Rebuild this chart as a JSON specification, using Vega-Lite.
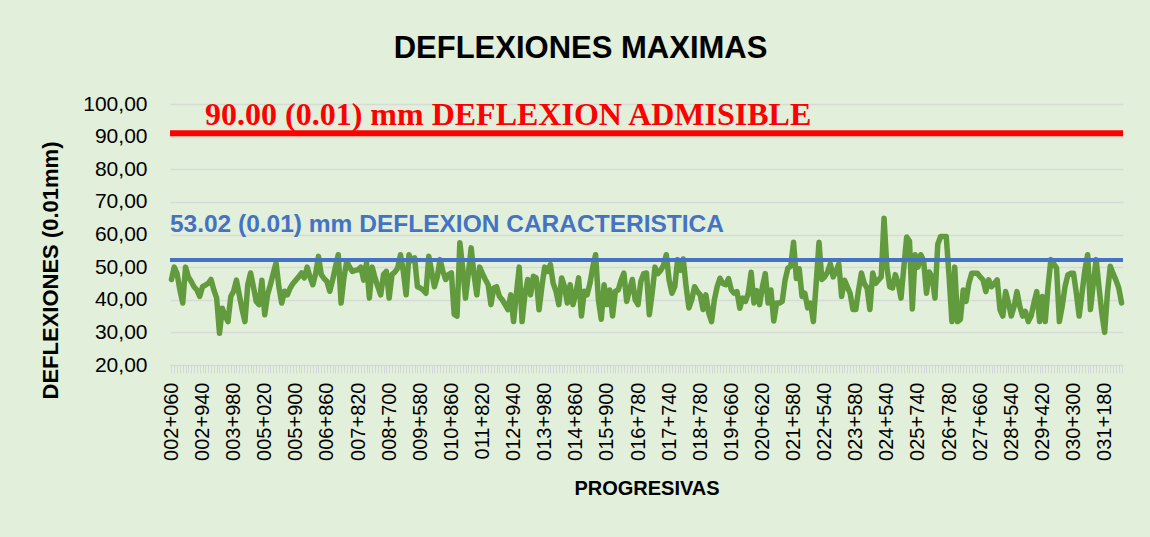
{
 "$schema": "https://vega.github.io/schema/vega-lite/v6.json",
 "width": 953,
 "height": 261,
 "autosize": {"type": "none"},
 "padding": {"left": 170, "top": 104, "right": 27, "bottom": 172},
 "background": "#e2efda",
 "config": {"view": {"stroke": null}, "font": "Liberation Sans", "axisY": {"tickCount": 9, "labelOverlap": false, "values": [20, 30, 40, 50, 60, 70, 80, 90, 100]}},
 "title": {"text": "DEFLEXIONES MAXIMAS", "font": "Liberation Sans", "fontSize": 31, "fontWeight": "bold", "color": "#000000", "anchor": "middle", "frame": "group", "dx": -66, "offset": 4, "baseline": "alphabetic"},
 "datasets": {
  "deflexiones": [
   {"progresiva":"002+060","deflexion":46.2},{"progresiva":"002+140","deflexion":50},{"progresiva":"002+220","deflexion":48},{"progresiva":"002+300","deflexion":43},{"progresiva":"002+380","deflexion":39},{"progresiva":"002+460","deflexion":50},{"progresiva":"002+540","deflexion":47},{"progresiva":"002+620","deflexion":45.6},{"progresiva":"002+700","deflexion":44},{"progresiva":"002+780","deflexion":43},{"progresiva":"002+860","deflexion":41},
   {"progresiva":"002+940","deflexion":44},{"progresiva":"003+020","deflexion":44.5},{"progresiva":"003+100","deflexion":45},{"progresiva":"003+180","deflexion":46.2},{"progresiva":"003+260","deflexion":43},{"progresiva":"003+340","deflexion":40.5},{"progresiva":"003+420","deflexion":29.7},{"progresiva":"003+500","deflexion":37.4},{"progresiva":"003+580","deflexion":35},{"progresiva":"003+660","deflexion":33.3},{"progresiva":"003+740","deflexion":41},
   {"progresiva":"003+980","deflexion":42.6},{"progresiva":"004+060","deflexion":46},{"progresiva":"004+140","deflexion":41.5},{"progresiva":"004+220","deflexion":37},{"progresiva":"004+300","deflexion":33.3},{"progresiva":"004+380","deflexion":44.6},{"progresiva":"004+460","deflexion":48.2},{"progresiva":"004+540","deflexion":44},{"progresiva":"004+620","deflexion":39.5},{"progresiva":"004+700","deflexion":38.5},{"progresiva":"004+780","deflexion":46},
   {"progresiva":"005+020","deflexion":35.4},{"progresiva":"005+100","deflexion":41.5},{"progresiva":"005+180","deflexion":44.6},{"progresiva":"005+260","deflexion":48},{"progresiva":"005+340","deflexion":51.3},{"progresiva":"005+420","deflexion":44},{"progresiva":"005+500","deflexion":39},{"progresiva":"005+580","deflexion":42.6},{"progresiva":"005+660","deflexion":41.5},{"progresiva":"005+740","deflexion":43.6},{"progresiva":"005+820","deflexion":45},
   {"progresiva":"005+900","deflexion":46},{"progresiva":"005+980","deflexion":47},{"progresiva":"006+060","deflexion":48.2},{"progresiva":"006+140","deflexion":46.7},{"progresiva":"006+220","deflexion":50},{"progresiva":"006+300","deflexion":47},{"progresiva":"006+380","deflexion":44.6},{"progresiva":"006+460","deflexion":48},{"progresiva":"006+540","deflexion":53.3},{"progresiva":"006+620","deflexion":47.7},{"progresiva":"006+700","deflexion":46.5},
   {"progresiva":"006+860","deflexion":45.6},{"progresiva":"006+940","deflexion":42.6},{"progresiva":"007+020","deflexion":46},{"progresiva":"007+100","deflexion":50},{"progresiva":"007+180","deflexion":53.8},{"progresiva":"007+260","deflexion":39},{"progresiva":"007+340","deflexion":46.7},{"progresiva":"007+420","deflexion":51.8},{"progresiva":"007+500","deflexion":50},{"progresiva":"007+580","deflexion":48.7},{"progresiva":"007+660","deflexion":49},
   {"progresiva":"007+820","deflexion":49.2},{"progresiva":"007+900","deflexion":50},{"progresiva":"007+980","deflexion":46},{"progresiva":"008+060","deflexion":51.3},{"progresiva":"008+140","deflexion":40.5},{"progresiva":"008+220","deflexion":50},{"progresiva":"008+300","deflexion":46.7},{"progresiva":"008+380","deflexion":44},{"progresiva":"008+460","deflexion":41.5},{"progresiva":"008+540","deflexion":47.7},{"progresiva":"008+620","deflexion":48.7},
   {"progresiva":"008+700","deflexion":40.5},{"progresiva":"008+780","deflexion":47.7},{"progresiva":"008+860","deflexion":48.5},{"progresiva":"008+940","deflexion":49.7},{"progresiva":"009+020","deflexion":53.8},{"progresiva":"009+100","deflexion":48.7},{"progresiva":"009+180","deflexion":41.5},{"progresiva":"009+260","deflexion":53.8},{"progresiva":"009+340","deflexion":52},{"progresiva":"009+420","deflexion":52.8},{"progresiva":"009+500","deflexion":44},
   {"progresiva":"009+580","deflexion":43.6},{"progresiva":"009+660","deflexion":43},{"progresiva":"009+740","deflexion":42},{"progresiva":"009+820","deflexion":53.3},{"progresiva":"009+900","deflexion":48.7},{"progresiva":"009+980","deflexion":44},{"progresiva":"010+060","deflexion":47},{"progresiva":"010+140","deflexion":52.3},{"progresiva":"010+220","deflexion":48.7},{"progresiva":"010+300","deflexion":46.2},{"progresiva":"010+380","deflexion":47.7},
   {"progresiva":"010+860","deflexion":48.2},{"progresiva":"010+940","deflexion":35.5},{"progresiva":"011+020","deflexion":35},{"progresiva":"011+100","deflexion":57.5},{"progresiva":"011+180","deflexion":49.7},{"progresiva":"011+260","deflexion":40.5},{"progresiva":"011+340","deflexion":48},{"progresiva":"011+420","deflexion":55.9},{"progresiva":"011+500","deflexion":47.7},{"progresiva":"011+580","deflexion":41.5},{"progresiva":"011+660","deflexion":50},
   {"progresiva":"011+820","deflexion":48},{"progresiva":"011+900","deflexion":46.2},{"progresiva":"011+980","deflexion":44.6},{"progresiva":"012+060","deflexion":38.5},{"progresiva":"012+140","deflexion":43.6},{"progresiva":"012+220","deflexion":44},{"progresiva":"012+300","deflexion":41},{"progresiva":"012+380","deflexion":40},{"progresiva":"012+460","deflexion":38.5},{"progresiva":"012+540","deflexion":37},{"progresiva":"012+620","deflexion":41.5},
   {"progresiva":"012+940","deflexion":33.3},{"progresiva":"013+020","deflexion":42},{"progresiva":"013+100","deflexion":50},{"progresiva":"013+180","deflexion":33.3},{"progresiva":"013+260","deflexion":41.5},{"progresiva":"013+340","deflexion":46.2},{"progresiva":"013+420","deflexion":41.5},{"progresiva":"013+500","deflexion":47.2},{"progresiva":"013+580","deflexion":46.7},{"progresiva":"013+660","deflexion":36.9},{"progresiva":"013+740","deflexion":44},
   {"progresiva":"013+980","deflexion":50},{"progresiva":"014+060","deflexion":48.7},{"progresiva":"014+140","deflexion":50.8},{"progresiva":"014+220","deflexion":45},{"progresiva":"014+300","deflexion":42.6},{"progresiva":"014+380","deflexion":38.5},{"progresiva":"014+460","deflexion":46.7},{"progresiva":"014+540","deflexion":44},{"progresiva":"014+620","deflexion":39},{"progresiva":"014+700","deflexion":44.6},{"progresiva":"014+780","deflexion":38.5},
   {"progresiva":"014+860","deflexion":42},{"progresiva":"014+940","deflexion":46.7},{"progresiva":"015+020","deflexion":35},{"progresiva":"015+100","deflexion":42.6},{"progresiva":"015+180","deflexion":41.5},{"progresiva":"015+260","deflexion":45},{"progresiva":"015+340","deflexion":50},{"progresiva":"015+420","deflexion":53.8},{"progresiva":"015+500","deflexion":40},{"progresiva":"015+580","deflexion":34},{"progresiva":"015+660","deflexion":44.6},
   {"progresiva":"015+900","deflexion":38.5},{"progresiva":"015+980","deflexion":43},{"progresiva":"016+060","deflexion":35},{"progresiva":"016+140","deflexion":42.6},{"progresiva":"016+220","deflexion":43},{"progresiva":"016+300","deflexion":46},{"progresiva":"016+380","deflexion":48.2},{"progresiva":"016+460","deflexion":39.5},{"progresiva":"016+540","deflexion":43},{"progresiva":"016+620","deflexion":46.2},{"progresiva":"016+700","deflexion":40},
   {"progresiva":"016+780","deflexion":38.5},{"progresiva":"016+860","deflexion":45.6},{"progresiva":"016+940","deflexion":48},{"progresiva":"017+020","deflexion":48.2},{"progresiva":"017+100","deflexion":35.4},{"progresiva":"017+180","deflexion":42},{"progresiva":"017+260","deflexion":50},{"progresiva":"017+340","deflexion":48},{"progresiva":"017+420","deflexion":49},{"progresiva":"017+500","deflexion":50.5},{"progresiva":"017+580","deflexion":53.8},
   {"progresiva":"017+740","deflexion":46},{"progresiva":"017+820","deflexion":42},{"progresiva":"017+900","deflexion":44},{"progresiva":"017+980","deflexion":52.3},{"progresiva":"018+060","deflexion":49},{"progresiva":"018+140","deflexion":52.5},{"progresiva":"018+220","deflexion":44},{"progresiva":"018+300","deflexion":37.5},{"progresiva":"018+380","deflexion":40},{"progresiva":"018+460","deflexion":44},{"progresiva":"018+540","deflexion":42.5},
   {"progresiva":"018+780","deflexion":41.5},{"progresiva":"018+860","deflexion":37},{"progresiva":"018+940","deflexion":41.5},{"progresiva":"019+020","deflexion":36},{"progresiva":"019+100","deflexion":33.3},{"progresiva":"019+180","deflexion":40},{"progresiva":"019+260","deflexion":44},{"progresiva":"019+340","deflexion":46.6},{"progresiva":"019+420","deflexion":45},{"progresiva":"019+500","deflexion":44.6},{"progresiva":"019+580","deflexion":46.5},
   {"progresiva":"019+660","deflexion":43},{"progresiva":"019+740","deflexion":42},{"progresiva":"019+820","deflexion":42.5},{"progresiva":"019+900","deflexion":37.4},{"progresiva":"019+980","deflexion":40.5},{"progresiva":"020+060","deflexion":39.5},{"progresiva":"020+140","deflexion":42},{"progresiva":"020+220","deflexion":48.4},{"progresiva":"020+300","deflexion":39},{"progresiva":"020+380","deflexion":42.8},{"progresiva":"020+460","deflexion":38.5},
   {"progresiva":"020+620","deflexion":44},{"progresiva":"020+700","deflexion":48},{"progresiva":"020+780","deflexion":39},{"progresiva":"020+860","deflexion":43},{"progresiva":"020+940","deflexion":33.5},{"progresiva":"021+020","deflexion":39},{"progresiva":"021+100","deflexion":39},{"progresiva":"021+180","deflexion":39.5},{"progresiva":"021+260","deflexion":46},{"progresiva":"021+340","deflexion":49.7},{"progresiva":"021+420","deflexion":50.3},
   {"progresiva":"021+580","deflexion":57.6},{"progresiva":"021+660","deflexion":46.5},{"progresiva":"021+740","deflexion":49.5},{"progresiva":"021+820","deflexion":41},{"progresiva":"021+900","deflexion":42},{"progresiva":"021+980","deflexion":37.5},{"progresiva":"022+060","deflexion":39},{"progresiva":"022+140","deflexion":33.3},{"progresiva":"022+220","deflexion":45},{"progresiva":"022+300","deflexion":57.6},{"progresiva":"022+380","deflexion":46.2},
   {"progresiva":"022+540","deflexion":47},{"progresiva":"022+620","deflexion":48.5},{"progresiva":"022+700","deflexion":51},{"progresiva":"022+780","deflexion":47},{"progresiva":"022+860","deflexion":48.7},{"progresiva":"022+940","deflexion":51},{"progresiva":"023+020","deflexion":41},{"progresiva":"023+100","deflexion":46},{"progresiva":"023+180","deflexion":44},{"progresiva":"023+260","deflexion":42},{"progresiva":"023+340","deflexion":37},
   {"progresiva":"023+580","deflexion":37},{"progresiva":"023+660","deflexion":43},{"progresiva":"023+740","deflexion":48.2},{"progresiva":"023+820","deflexion":45},{"progresiva":"023+900","deflexion":43.6},{"progresiva":"023+980","deflexion":37},{"progresiva":"024+060","deflexion":48.2},{"progresiva":"024+140","deflexion":45},{"progresiva":"024+220","deflexion":46},{"progresiva":"024+300","deflexion":47},{"progresiva":"024+380","deflexion":65},
   {"progresiva":"024+540","deflexion":50},{"progresiva":"024+620","deflexion":44},{"progresiva":"024+700","deflexion":43.6},{"progresiva":"024+780","deflexion":47.7},{"progresiva":"024+860","deflexion":45},{"progresiva":"024+940","deflexion":40.5},{"progresiva":"025+020","deflexion":50},{"progresiva":"025+100","deflexion":59.2},{"progresiva":"025+180","deflexion":58},{"progresiva":"025+260","deflexion":37.2},{"progresiva":"025+340","deflexion":53.8},
   {"progresiva":"025+740","deflexion":50},{"progresiva":"025+820","deflexion":53.8},{"progresiva":"025+900","deflexion":52},{"progresiva":"025+980","deflexion":42},{"progresiva":"026+060","deflexion":48.5},{"progresiva":"026+140","deflexion":47},{"progresiva":"026+220","deflexion":40.5},{"progresiva":"026+300","deflexion":57},{"progresiva":"026+380","deflexion":59.4},{"progresiva":"026+460","deflexion":59.4},{"progresiva":"026+540","deflexion":59.4},
   {"progresiva":"026+780","deflexion":47.1},{"progresiva":"026+860","deflexion":33.3},{"progresiva":"026+940","deflexion":50},{"progresiva":"027+020","deflexion":33.3},{"progresiva":"027+100","deflexion":34},{"progresiva":"027+180","deflexion":43},{"progresiva":"027+260","deflexion":39.5},{"progresiva":"027+340","deflexion":45},{"progresiva":"027+420","deflexion":48.1},{"progresiva":"027+500","deflexion":48.1},{"progresiva":"027+580","deflexion":48.1},
   {"progresiva":"027+660","deflexion":47},{"progresiva":"027+740","deflexion":46.1},{"progresiva":"027+820","deflexion":42.5},{"progresiva":"027+900","deflexion":46.1},{"progresiva":"027+980","deflexion":44},{"progresiva":"028+060","deflexion":45},{"progresiva":"028+140","deflexion":46.1},{"progresiva":"028+220","deflexion":37},{"progresiva":"028+300","deflexion":35},{"progresiva":"028+380","deflexion":42.5},{"progresiva":"028+460","deflexion":39},
   {"progresiva":"028+540","deflexion":35},{"progresiva":"028+620","deflexion":38},{"progresiva":"028+700","deflexion":42.5},{"progresiva":"028+780","deflexion":38},{"progresiva":"028+860","deflexion":35},{"progresiva":"028+940","deflexion":36.4},{"progresiva":"029+020","deflexion":33.3},{"progresiva":"029+100","deflexion":35},{"progresiva":"029+180","deflexion":39},{"progresiva":"029+260","deflexion":42.5},{"progresiva":"029+340","deflexion":33.3},
   {"progresiva":"029+420","deflexion":41},{"progresiva":"029+500","deflexion":33.3},{"progresiva":"029+580","deflexion":44},{"progresiva":"029+660","deflexion":52.3},{"progresiva":"029+740","deflexion":51},{"progresiva":"029+820","deflexion":49.7},{"progresiva":"029+900","deflexion":33.3},{"progresiva":"029+980","deflexion":38},{"progresiva":"030+060","deflexion":44},{"progresiva":"030+140","deflexion":47.6},{"progresiva":"030+220","deflexion":48.1},
   {"progresiva":"030+300","deflexion":48.1},{"progresiva":"030+380","deflexion":42},{"progresiva":"030+460","deflexion":35},{"progresiva":"030+540","deflexion":42},{"progresiva":"030+620","deflexion":49},{"progresiva":"030+700","deflexion":53.8},{"progresiva":"030+780","deflexion":37},{"progresiva":"030+860","deflexion":45},{"progresiva":"030+940","deflexion":52.3},{"progresiva":"031+020","deflexion":44},{"progresiva":"031+100","deflexion":36},
   {"progresiva":"031+180","deflexion":30},{"progresiva":"031+260","deflexion":42},{"progresiva":"031+340","deflexion":50.3},{"progresiva":"031+420","deflexion":48},{"progresiva":"031+500","deflexion":46},{"progresiva":"031+580","deflexion":43.6},{"progresiva":"031+660","deflexion":39}
  ],
  "limites": [
   {"limite": "DEFLEXION ADMISIBLE", "valor": 91, "texto": "90.00 (0.01) mm DEFLEXION ADMISIBLE"},
   {"limite": "DEFLEXION CARACTERISTICA", "valor": 52.2, "texto": "53.02 (0.01) mm DEFLEXION CARACTERISTICA"}
  ]
 },
 "layer": [
  {
   "data": {"name": "deflexiones"},
   "mark": {"type": "line", "color": "#629b3d", "strokeWidth": 5.5, "strokeJoin": "round", "strokeCap": "round"},
   "encoding": {
    "x": {"field": "progresiva", "type": "ordinal", "scale": {"type": "point", "padding": 0.5},
     "axis": {"title": "PROGRESIVAS", "titleFont": "Liberation Sans", "titleFontSize": 20, "titleFontWeight": "bold", "titleColor": "#000000", "titlePadding": 18,
      "labelAngle": -90, "labelAlign": "right", "labelBaseline": "middle", "labelFont": "Liberation Sans", "labelFontSize": 20, "labelColor": "#000000", "labelPadding": 9, "labelOverlap": false,
      "labelExpr": "indexof(['002+060','002+940','003+980','005+020','005+900','006+860','007+820','008+700','009+580','010+860','011+820','012+940','013+980','014+860','015+900','016+780','017+740','018+780','019+660','020+620','021+580','022+540','023+580','024+540','025+740','026+780','027+660','028+540','029+420','030+300','031+180'], datum.value) >= 0 ? datum.value : ''",
      "ticks": true, "tickColor": "#d3d9d6", "tickSize": 8, "tickWidth": 1, "domainColor": "#d3d9d6", "domainWidth": 1, "grid": false}},
    "y": {"field": "deflexion", "type": "quantitative", "scale": {"domain": [20, 100], "nice": false, "zero": false},
     "axis": {"title": "DEFLEXIONES (0.01mm)", "titleFont": "Liberation Sans", "titleFontSize": 22, "titleFontWeight": "bold", "titleColor": "#000000", "titleX": -108, "titleY": 166,
      "values": [20, 30, 40, 50, 60, 70, 80, 90, 100], "tickCount": 9, "labelExpr": "replace(format(datum.value, '.2f'), '.', ',')", "labelOverlap": false,
      "labelFont": "Liberation Sans", "labelFontSize": 21, "labelColor": "#000000", "labelPadding": 23, "ticks": false, "domain": false,
      "grid": true, "gridColor": "#d6dbd8", "gridWidth": 1.5}}
   }
  },
  {
   "data": {"name": "limites"},
   "transform": [{"filter": "datum.limite === 'DEFLEXION ADMISIBLE'"}],
   "mark": {"type": "rule", "color": "#ff0000", "strokeWidth": 6},
   "encoding": {"y": {"field": "valor", "type": "quantitative", "title": "DEFLEXIONES (0.01mm)", "axis": {"values": [20, 30, 40, 50, 60, 70, 80, 90, 100]}}}
  },
  {
   "data": {"name": "limites"},
   "transform": [{"filter": "datum.limite === 'DEFLEXION CARACTERISTICA'"}],
   "mark": {"type": "rule", "color": "#4472c4", "strokeWidth": 4},
   "encoding": {"y": {"field": "valor", "type": "quantitative", "title": "DEFLEXIONES (0.01mm)", "axis": {"values": [20, 30, 40, 50, 60, 70, 80, 90, 100]}}}
  },
  {
   "data": {"name": "limites"},
   "transform": [{"filter": "datum.limite === 'DEFLEXION ADMISIBLE'"}],
   "mark": {"type": "text", "color": "#ff0000", "font": "Liberation Serif", "fontSize": 32, "fontWeight": "bold", "align": "left", "baseline": "alphabetic", "dx": 2.5, "dy": -8},
   "encoding": {"x": {"datum": "002+940", "type": "ordinal", "title": "PROGRESIVAS"}, "y": {"field": "valor", "type": "quantitative", "title": "DEFLEXIONES (0.01mm)", "axis": {"values": [20, 30, 40, 50, 60, 70, 80, 90, 100]}}, "text": {"field": "texto"}}
  },
  {
   "data": {"name": "limites"},
   "transform": [{"filter": "datum.limite === 'DEFLEXION CARACTERISTICA'"}],
   "mark": {"type": "text", "color": "#4472c4", "font": "Liberation Sans", "fontSize": 24.5, "fontWeight": "bold", "align": "left", "baseline": "alphabetic", "dx": -1.5, "dy": -28},
   "encoding": {"x": {"datum": "002+060", "type": "ordinal", "title": "PROGRESIVAS"}, "y": {"field": "valor", "type": "quantitative", "title": "DEFLEXIONES (0.01mm)", "axis": {"values": [20, 30, 40, 50, 60, 70, 80, 90, 100]}}, "text": {"field": "texto"}}
  }
 ]
}
